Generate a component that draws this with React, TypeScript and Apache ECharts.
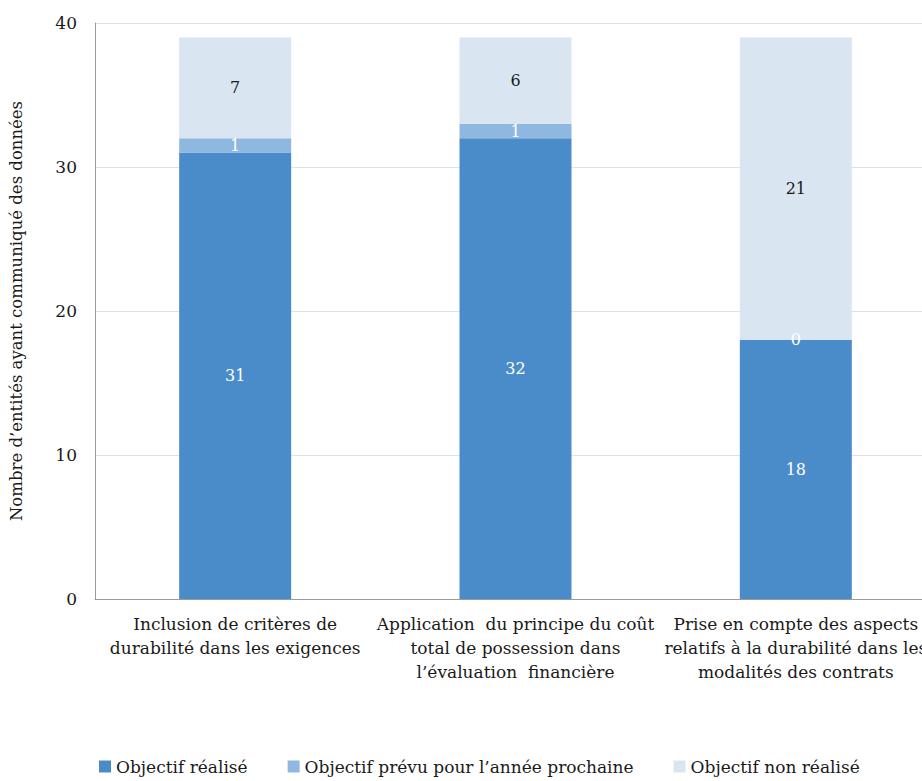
import React, { useEffect, useRef } from "react";
import * as echarts from "echarts";

const categories = [
  "Inclusion de critères de\ndurabilité dans les exigences",
  "Application  du principe du coût\ntotal de possession dans\nl’évaluation  financière",
  "Prise en compte des aspects\nrelatifs à la durabilité dans les\nmodalités des contrats",
];
const realise = [31, 32, 18];
const prevu = [1, 1, 0];
const nonRealise = [7, 6, 21];
const seriesNames = ["Objectif réalisé", "Objectif prévu pour l’année prochaine", "Objectif non réalisé"];
const yTicks = { min: 0, max: 40, interval: 10 };

const FONT = "DejaVu Serif";

export default function App() {
  const ref = useRef<HTMLDivElement>(null);
  useEffect(() => {
    if (!ref.current) return;
    const chart = echarts.init(ref.current, null, { renderer: "svg" });
    const colors = ["#4a8cca", "#8fb8e0", "#d9e6f2"];
    const labelColors = ["#ffffff", "#ffffff", "#1a1a1a"];
    const data = [realise, prevu, nonRealise];
    chart.setOption({
      animation: false,
      textStyle: { fontFamily: FONT },
      grid: { left: 93, right: 0, top: 23, bottom: 182 },
      legend: {
        left: 94,
        bottom: 1,
        itemWidth: 12,
        itemHeight: 12,
        itemGap: 40,
        icon: "rect",
        textStyle: { fontFamily: FONT, fontSize: 17, color: "#1a1a1a" },
        data: seriesNames,
      },
      xAxis: {
        type: "category",
        data: categories,
        axisLine: { lineStyle: { color: "#9a9a9a", width: 1 } },
        axisTick: { show: false },
        axisLabel: {
          interval: 0,
          fontFamily: FONT,
          fontSize: 17,
          lineHeight: 24,
          color: "#1a1a1a",
          margin: 13,
        },
      },
      yAxis: {
        type: "value",
        min: yTicks.min,
        max: yTicks.max,
        interval: yTicks.interval,
        name: "Nombre d’entités ayant communiqué des données",
        nameLocation: "middle",
        nameGap: 70,
        nameTextStyle: { fontFamily: FONT, fontSize: 16.5, color: "#1a1a1a" },
        axisLine: { show: true, lineStyle: { color: "#9a9a9a", width: 1 } },
        axisTick: { show: false },
        axisLabel: { fontFamily: FONT, fontSize: 17, color: "#1a1a1a", margin: 18 },
        splitLine: { lineStyle: { color: "#d6e4f2", width: 1 } },
      },
      series: data.map((d, i) => ({
        type: "bar",
        name: seriesNames[i],
        stack: "total",
        data: d,
        barWidth: 112,
        itemStyle: { color: colors[i] },
        label: {
          show: true,
          position: "inside",
          color: labelColors[i],
          fontFamily: FONT,
          fontSize: 16,
        },
      })),
    });
    return () => chart.dispose();
  }, []);
  return (
    <div style={{ position: "fixed", left: 0, top: 0, width: 922, height: 781, overflow: "hidden", background: "#fff" }}>
      <div ref={ref} style={{ width: 936, height: 781 }} />
    </div>
  );
}
